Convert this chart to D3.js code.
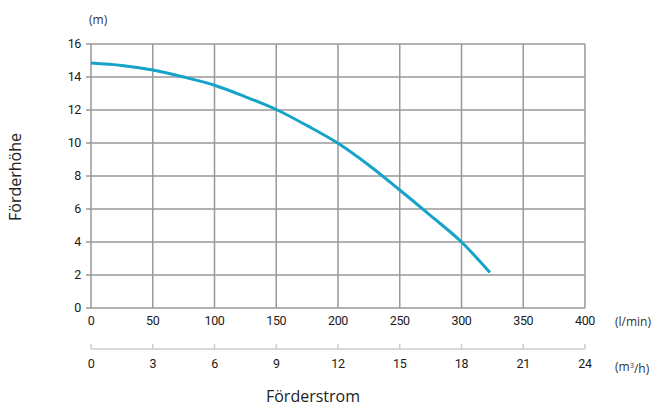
<!DOCTYPE html>
<html><head><meta charset="utf-8">
<script src="https://cdn.jsdelivr.net/npm/d3@7"></script>
<style>
body{margin:0;background:#fff;}
svg{display:block;}
.tick{font-family:"Roboto",sans-serif;font-size:12.5px;fill:#1a1a1a;letter-spacing:-0.4px;}
.unit{font-family:"Open Sans","Noto Sans",sans-serif;font-size:12px;fill:#333;}
.title{font-family:"Open Sans","Noto Sans",sans-serif;font-size:16px;fill:#222;}
</style></head><body>
<script>
const flowLmin = [0,25,50,75,100,125,150,175,200,225,250,275,300,323];
const headM = [14.85,14.7,14.42,14.0,13.5,12.8,12.03,11.05,9.98,8.65,7.15,5.6,4.0,2.15];
const xTicksLmin = [0,50,100,150,200,250,300,350,400];
const xTicksM3h = [0,3,6,9,12,15,18,21,24];
const yTicks = [0,2,4,6,8,10,12,14,16];

const W=659,H=408;
const svg=d3.select("body").append("svg").attr("width",W).attr("height",H);
const x=d3.scaleLinear().domain([0,400]).range([91,585]);
const x2=d3.scaleLinear().domain([0,24]).range([91,585]);
const y=d3.scaleLinear().domain([0,16]).range([308,44]);
const grid="#999";

// grid
svg.append("g").selectAll("line").data(yTicks).join("line")
  .attr("x1",86).attr("x2",x(400)).attr("y1",d=>y(d)).attr("y2",d=>y(d))
  .attr("stroke",grid).attr("stroke-width",1.5);
svg.append("g").selectAll("line").data(xTicksLmin).join("line")
  .attr("x1",d=>x(d)).attr("x2",d=>x(d)).attr("y1",y(16)).attr("y2",y(0))
  .attr("stroke",grid).attr("stroke-width",1.5);

// y labels
svg.append("g").selectAll("text").data(yTicks).join("text").attr("class","tick")
  .attr("x",81).attr("y",d=>y(d)).attr("dy","0.35em").attr("text-anchor","end").text(d=>d);
// x labels
svg.append("g").selectAll("text").data(xTicksLmin).join("text").attr("class","tick")
  .attr("x",d=>x(d)).attr("y",321).attr("dy","0.35em").attr("text-anchor","middle").text(d=>d);

// second axis
const ax2=svg.append("g");
ax2.append("line").attr("x1",x2(0)).attr("x2",x2(24)).attr("y1",349).attr("y2",349)
  .attr("stroke","#ccc").attr("stroke-width",1.5);
ax2.selectAll("line.t").data(xTicksM3h).join("line").attr("class","t")
  .attr("x1",d=>x2(d)).attr("x2",d=>x2(d)).attr("y1",344).attr("y2",349)
  .attr("stroke","#ccc").attr("stroke-width",1.5);
ax2.selectAll("text").data(xTicksM3h).join("text").attr("class","tick")
  .attr("x",d=>x2(d)).attr("y",364).attr("dy","0.35em").attr("text-anchor","middle").text(d=>d);

// curve
const line=d3.line().x((d,i)=>x(flowLmin[i])).y(d=>y(d)).curve(d3.curveMonotoneX);
svg.append("path").datum(headM).attr("d",line).attr("fill","none")
  .attr("stroke","#16a3c9").attr("stroke-width",3);

// units / titles
svg.append("text").attr("class","unit").attr("x",89).attr("y",20).attr("dy","0.35em").text("(m)");
svg.append("text").attr("class","unit").attr("x",615).attr("y",322).attr("dy","0.35em").text("(l/min)");
const m3=svg.append("text").attr("class","unit").attr("x",615).attr("y",367).attr("dy","0.35em");
m3.append("tspan").text("(m");
m3.append("tspan").attr("font-size","7.5px").attr("dy","-0.45em").text("3");
m3.append("tspan").attr("dy","0.45em").text("/h)");
svg.append("text").attr("class","title").attr("transform","translate(21,177) rotate(-90)")
  .attr("text-anchor","middle").text("Förderhöhe");
svg.append("text").attr("class","title").attr("x",313).attr("y",396).attr("dy","0.35em")
  .attr("text-anchor","middle").text("Förderstrom");
</script></body></html>
